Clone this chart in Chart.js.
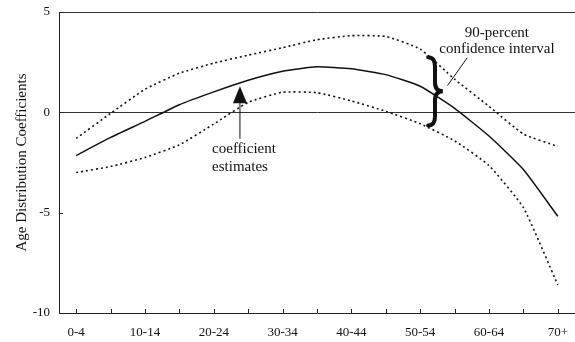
<!DOCTYPE html>
<html>
<head>
<meta charset="utf-8">
<script src="https://cdn.jsdelivr.net/npm/chart.js@4/dist/chart.umd.min.js"></script>
<style>
  html, body { margin:0; padding:0; background:#fff; }
  #wrap { width:575px; height:342px; position:relative; }
</style>
</head>
<body>
<div id="wrap"><canvas id="chart"></canvas></div>
<script>
// ── DATA ─────────────────────────────────────────
const ages = ['0-4','5-9','10-14','15-19','20-24','25-29','30-34','35-39',
              '40-44','45-49','50-54','55-59','60-64','65-69','70+'];
const estimate = [-2.15,-1.25,-0.45,0.38,1.02,1.6,2.05,2.27,2.17,1.88,1.3,0.2,-1.18,-2.85,-5.18];
const upper    = [-1.3,-0.05,1.15,1.95,2.45,2.85,3.22,3.62,3.82,3.78,3.15,1.65,0.3,-1.08,-1.7];
const lower    = [-3.0,-2.7,-2.25,-1.62,-0.58,0.5,1.0,0.98,0.57,0.05,-0.57,-1.42,-2.65,-4.75,-8.6];
const yTicks   = [5,0,-5,-10];

const SERIF = '"Liberation Serif", "Times New Roman", serif';
const INK = '#111';

// ── PLUGIN: inner ticks + annotations ────────────
const decor = {
  id: 'decor',
  afterDraw(chart) {
    const { ctx, chartArea: a } = chart;
    const x = chart.scales.x, y = chart.scales.y;
    const px = i => x.getPixelForValue(i);
    const py = v => y.getPixelForValue(v);
    ctx.save();
    ctx.strokeStyle = '#222';
    ctx.lineWidth = 1;
    // inward tick marks
    ages.forEach((_, i) => {
      const xx = Math.round(px(i)) + 0.5;
      ctx.beginPath(); ctx.moveTo(xx, a.bottom); ctx.lineTo(xx, a.bottom - 4); ctx.stroke();
    });
    yTicks.forEach(v => {
      const yy = Math.round(py(v)) + 0.5;
      ctx.beginPath(); ctx.moveTo(a.left, yy); ctx.lineTo(a.left + 4, yy); ctx.stroke();
    });

    ctx.fillStyle = INK;
    ctx.strokeStyle = INK;
    ctx.font = '15px ' + SERIF;

    // "90-percent confidence interval"
    ctx.textAlign = 'center';
    ctx.textBaseline = 'alphabetic';
    ctx.fillText('90-percent', px(12.23), py(3.75));
    ctx.fillText('confidence interval', px(12.23), py(2.95));

    // brace
    const L = px(10.23), M = px(10.43), T = px(10.66);
    const Y0 = py(2.75), Ym = py(1.05), Y1 = py(-0.65);
    ctx.lineWidth = 4;
    ctx.lineCap = 'round';
    ctx.beginPath();
    ctx.moveTo(L, Y0);
    ctx.quadraticCurveTo(M, Y0, M, Y0 + 9);
    ctx.lineTo(M, Ym - 9);
    ctx.quadraticCurveTo(M, Ym, T, Ym);
    ctx.quadraticCurveTo(M, Ym, M, Ym + 9);
    ctx.lineTo(M, Y1 - 9);
    ctx.quadraticCurveTo(M, Y1, L, Y1);
    ctx.stroke();

    // pointer to the brace
    ctx.lineWidth = 1;
    ctx.beginPath();
    ctx.moveTo(px(10.8), py(1.35));
    ctx.lineTo(px(11.36), py(2.7));
    ctx.stroke();

    // "coefficient estimates" with arrow
    ctx.textAlign = 'left';
    ctx.fillText('coefficient', px(3.95), py(-2.05));
    ctx.fillText('estimates', px(3.95), py(-2.9));
    const ax = px(4.76);
    ctx.beginPath();
    ctx.moveTo(ax, py(0.45));
    ctx.lineTo(ax, py(-1.3));
    ctx.stroke();
    ctx.beginPath();
    ctx.moveTo(ax, py(1.3));
    ctx.lineTo(ax - 7, py(0.45));
    ctx.lineTo(ax + 7, py(0.45));
    ctx.closePath();
    ctx.fill();
    ctx.restore();
  }
};

// ── CHART ────────────────────────────────────────
const lineSet = (data, dashed, w) => ({
  data,
  borderColor: INK,
  borderWidth: w,
  borderDash: dashed ? [2, 3] : [],
  pointRadius: 0,
  tension: 0.15,
  fill: false
});

new Chart(document.getElementById('chart'), {
  type: 'line',
  data: {
    labels: ages,
    datasets: [
      lineSet(upper, true, 1.6),
      lineSet(estimate, false, 1.5),
      lineSet(lower, true, 1.6)
    ]
  },
  options: {
    responsive: true, maintainAspectRatio: false, animation: false,
    layout: { padding: { top: 12, right: 0, left: 0, bottom: 0 } },
    plugins: { legend: { display: false }, tooltip: { enabled: false } },
    scales: {
      x: {
        type: 'category',
        offset: true,
        grid: { drawOnChartArea: false, drawTicks: false, offset: false },
        border: { color: '#222', width: 1 },
        ticks: {
          autoSkip: false, maxRotation: 0, padding: 12,
          color: INK, font: { family: SERIF, size: 13 },
          callback: (v, i) => i % 2 === 0 ? ages[i] : ''
        },
        afterFit: s => { s.height = 29; s.paddingLeft = 0; s.paddingRight = 0; }
      },
      y: {
        min: -10, max: 5,
        grid: {
          drawTicks: false,
          color: c => (c.tick.value === 0 || c.tick.value === 5) ? '#333' : 'rgba(0,0,0,0)',
          lineWidth: 1
        },
        border: { color: '#222', width: 1 },
        ticks: {
          stepSize: 5, padding: 9,
          color: INK, font: { family: SERIF, size: 13 }
        },
        title: {
          display: true, text: 'Age Distribution Coefficients',
          color: INK, font: { family: SERIF, size: 15 },
          padding: { top: 13, bottom: 0 }
        },
        afterFit: s => { s.width = 59; s.paddingTop = 0; s.paddingBottom = 0; }
      }
    }
  },
  plugins: [decor]
});
</script>
</body>
</html>
